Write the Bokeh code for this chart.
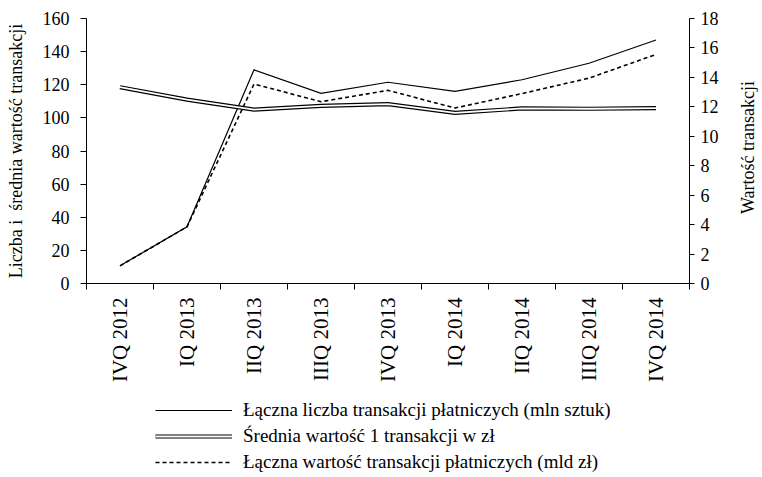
from math import pi
from bokeh.plotting import figure
from bokeh.layouts import column
from bokeh.models import (Range1d, LinearAxis, FixedTicker, Legend, LegendItem,
                          ColumnDataSource, Label)
from bokeh.embed import file_html
from bokeh.resources import INLINE

categories = ["IVQ 2012", "IQ 2013", "IIQ 2013", "IIIQ 2013", "IVQ 2013",
              "IQ 2014", "IIQ 2014", "IIIQ 2014", "IVQ 2014"]
liczba = [10.7, 34.2, 129.0, 114.8, 121.5, 116.0, 123.0, 133.0, 147.0]
srednia = [118.5, 111.0, 105.0, 107.3, 108.3, 103.0, 105.7, 105.5, 105.9]
wartosc = [1.2, 3.85, 13.55, 12.35, 13.12, 11.92, 12.9, 13.95, 15.56]
left_ticks = [0, 20, 40, 60, 80, 100, 120, 140, 160]
right_ticks = [0, 2, 4, 6, 8, 10, 12, 14, 16, 18]
labels = ["Łączna liczba transakcji płatniczych (mln sztuk)",
          "Średnia wartość 1 transakcji w zł",
          "Łączna wartość transakcji płatniczych (mld zł)"]

FONT = "Liberation Serif"
FS = "18px"

xs = [i + 0.5 for i in range(len(categories))]
src = ColumnDataSource(dict(x=xs, liczba=liczba, srednia=srednia, wartosc=wartosc))

p = figure(width=760, height=398, output_backend="svg", toolbar_location=None,
           x_range=Range1d(0, len(categories)), y_range=Range1d(0, 160),
           min_border_left=86, min_border_right=71, min_border_top=18,
           min_border_bottom=115)
p.extra_y_ranges = {"right": Range1d(0, 18)}
p.outline_line_color = None
p.xgrid.visible = False
p.ygrid.visible = False

SOLID = dict(line_color="black", line_width=1.2, line_join="miter")
OUTER = dict(line_color="black", line_width=4.2, line_join="miter")
INNER = dict(line_color="white", line_width=1.8, line_join="miter")
DASH = dict(line_color="black", line_width=1.6, line_dash="4 3", line_join="miter")

p.line("x", "liczba", source=src, **SOLID)
p.line("x", "srednia", source=src, **OUTER)
p.line("x", "srednia", source=src, **INNER)
p.line("x", "wartosc", source=src, y_range_name="right", **DASH)

# x axis
xa = p.xaxis[0]
xa.ticker = FixedTicker(ticks=xs, minor_ticks=list(range(len(categories) + 1)))
xa.major_label_overrides = {x: c for x, c in zip(xs, categories)}
xa.major_label_orientation = pi / 2
xa.major_tick_line_color = None
xa.major_tick_out = 6
xa.minor_tick_in = 0
xa.minor_tick_out = 6
xa.minor_tick_line_color = "black"
xa.major_label_standoff = 8
xa.axis_line_color = "black"
xa.major_label_text_font = FONT
xa.major_label_text_font_size = "21px"
xa.major_label_text_color = "black"

# left axis
ya = p.yaxis[0]
ya.ticker = FixedTicker(ticks=left_ticks, minor_ticks=[])
ya.major_tick_in = 0
ya.major_tick_out = 6
ya.major_label_standoff = 11
ya.axis_label = "Liczba i\u00a0 średnia wartość transakcji"
ya.axis_label_standoff = 14
ya.axis_label_text_font = FONT
ya.axis_label_text_font_size = FS
ya.axis_label_text_font_style = "normal"
ya.axis_label_text_color = "black"
ya.major_label_text_font = FONT
ya.major_label_text_font_size = FS
ya.major_label_text_color = "black"
ya.axis_line_color = "black"
ya.major_tick_line_color = "black"

# right axis
ra = LinearAxis(y_range_name="right", ticker=FixedTicker(ticks=right_ticks, minor_ticks=[]))
ra.major_tick_in = 0
ra.major_tick_out = 5
ra.major_label_standoff = 6
ra.major_label_text_font = FONT
ra.major_label_text_font_size = FS
ra.major_label_text_color = "black"
ra.axis_line_color = "black"
ra.major_tick_line_color = "black"
p.add_layout(ra, "right")

right_title = Label(text="Wartość transakcji", x=26, y=136, x_units="screen",
                    y_units="screen", angle=pi / 2, text_align="center",
                    text_baseline="middle", text_font=FONT, text_font_size=FS,
                    text_color="black")
p.add_layout(right_title, "right")

# legend figure below
q = figure(width=760, height=78, output_backend="svg", toolbar_location=None,
           x_range=Range1d(0, len(categories)), y_range=Range1d(-2, -1),
           x_axis_type=None, y_axis_type=None,
           min_border_left=86, min_border_right=71, min_border_top=0,
           min_border_bottom=0)
q.outline_line_color = None
q.xgrid.visible = False
q.ygrid.visible = False
l1 = q.line("x", "liczba", source=src, **SOLID)
l2a = q.line("x", "srednia", source=src, **OUTER)
l2b = q.line("x", "srednia", source=src, **INNER)
l3 = q.line("x", "wartosc", source=src, **DASH)

legend = Legend(items=[
    LegendItem(label=labels[0], renderers=[l1]),
    LegendItem(label=labels[1], renderers=[l2a, l2b]),
    LegendItem(label=labels[2], renderers=[l3]),
], location=(69, 3))
legend.border_line_color = None
legend.background_fill_alpha = 0
legend.padding = 0
legend.margin = 0
legend.spacing = 4
legend.glyph_width = 77
legend.glyph_height = 22
legend.label_height = 22
legend.label_standoff = 11
legend.label_text_font = FONT
legend.label_text_font_size = "19px"
legend.label_text_color = "black"
legend.label_text_baseline = "middle"
q.add_layout(legend, "center")

open("out.html", "w").write(file_html(column(p, q, spacing=0), INLINE))
